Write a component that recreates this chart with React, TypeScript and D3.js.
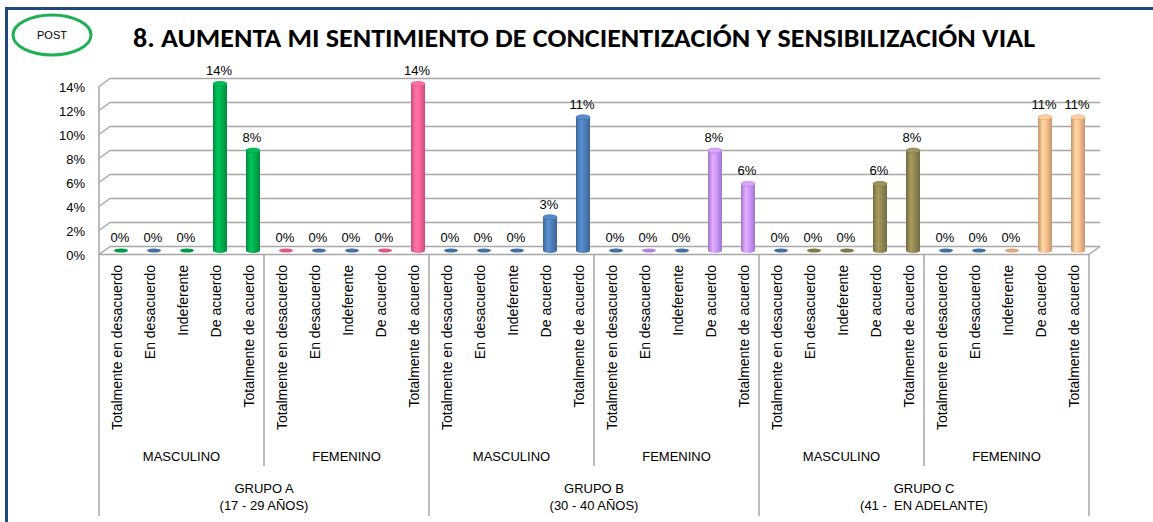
import React from "react";
import * as d3 from "d3";

const TITLE = "8. AUMENTA MI SENTIMIENTO DE CONCIENTIZACIÓN Y SENSIBILIZACIÓN VIAL";
const BADGE = "POST";

const respuestas = [
  "Totalmente en desacuerdo",
  "En desacuerdo",
  "Indeferente",
  "De acuerdo",
  "Totalmente de acuerdo",
];
const generos = ["MASCULINO", "FEMENINO"];
const grupos = ["GRUPO A", "GRUPO B", "GRUPO C"];
const rangos = ["(17 - 29 AÑOS)", "(30 - 40 AÑOS)", "(41 -  EN ADELANTE)"];

// percentages, in the order grupo -> genero -> respuesta
const grupoAMasculino = [0, 0, 0, 13.89, 8.33];
const grupoAFemenino = [0, 0, 0, 0, 13.89];
const grupoBMasculino = [0, 0, 0, 2.78, 11.11];
const grupoBFemenino = [0, 0, 0, 8.33, 5.56];
const grupoCMasculino = [0, 0, 0, 5.56, 8.33];
const grupoCFemenino = [0, 0, 0, 11.11, 11.11];

const yTicks = [0, 2, 4, 6, 8, 10, 12, 14];

// colours (style, separate from data)
const GREEN = "#00B050";
const BLUE = "#4F81BD";
const PINK = "#FF6699";
const PURPLE = "#CC99FF";
const OLIVE = "#948A54";
const PEACH = "#FAC090";
const barColors = [
  GREEN, BLUE, GREEN, GREEN, GREEN,
  PINK, BLUE, BLUE, PINK, PINK,
  BLUE, BLUE, BLUE, BLUE, BLUE,
  BLUE, PURPLE, BLUE, PURPLE, PURPLE,
  BLUE, OLIVE, OLIVE, OLIVE, OLIVE,
  BLUE, BLUE, PEACH, PEACH, PEACH,
];

const values = [
  ...grupoAMasculino, ...grupoAFemenino,
  ...grupoBMasculino, ...grupoBFemenino,
  ...grupoCMasculino, ...grupoCFemenino,
];

const W = 1153;
const H = 522;
const FONT = "'Liberation Sans', Arial, sans-serif";
const GRID = "#A6A6A6";

export default function App() {
  const left = 99;
  const right = 1089;
  const depthX = 11;
  const depthY = 8;
  const x = d3.scaleBand<number>().domain(d3.range(values.length)).range([left, right]).padding(0);
  const bw = x.bandwidth();
  const yBack = d3.scaleLinear().domain([0, 14]).range([246.5, 78.5]);
  const yFront = (v: number) => yBack(v) + depthY;
  const yMid = (v: number) => yBack(v) + depthY / 2;
  const barOff = 5.5;
  const rx = 7;
  const ry = 2.5;

  const uniq = Array.from(new Set(barColors));
  const gid = (c: string) => "g" + c.replace("#", "");

  const tableTop = yFront(0);
  const tableBottom = 516;
  const genderBottom = 466;
  const nResp = respuestas.length;

  return (
    <svg
      width={W}
      height={H}
      style={{ position: "absolute", left: 0, top: 0, background: "#fff" }}
      fontFamily={FONT}
    >
      <defs>
        {uniq.map((c) => {
          const base = d3.color(c)!;
          const dark = base.darker(0.7).formatHex();
          const light = base.brighter(0.35).formatHex();
          return (
            <linearGradient key={c} id={gid(c)} x1="0" x2="1" y1="0" y2="0">
              <stop offset="0%" stopColor={dark} />
              <stop offset="35%" stopColor={light} />
              <stop offset="60%" stopColor={c} />
              <stop offset="100%" stopColor={dark} />
            </linearGradient>
          );
        })}
      </defs>
      <rect x={0} y={0} width={W} height={H} fill="#fff" />
      {/* frame */}
      <rect x={5} y={7} width={W - 5} height={3} fill="#1F497D" />
      <rect x={5} y={7} width={3} height={H - 7} fill="#1F497D" />

      {/* badge */}
      <ellipse cx={52} cy={35} rx={39} ry={20} fill="none" stroke="#1FAF55" strokeWidth={3} />
      <text x={52} y={39} textAnchor="middle" fontSize={11} fill="#000">{BADGE}</text>

      {/* title */}
      <text
        x={584}
        y={47}
        textAnchor="middle"
        fontSize={26}
        fontWeight="bold"
        fill="#000"
        textLength={902}
        lengthAdjust="spacingAndGlyphs"
        fontFamily="Carlito, 'Liberation Sans', Arial, sans-serif"
      >
        {TITLE}
      </text>

      {/* walls & gridlines */}
      {yTicks.map((t) => (
        <g key={t}>
          <line x1={left + depthX} x2={right + depthX} y1={yBack(t)} y2={yBack(t)} stroke={GRID} strokeWidth={1.5} />
          <line x1={left} x2={left + depthX} y1={yFront(t)} y2={yBack(t)} stroke={GRID} strokeWidth={1.5} />
          <text x={85} y={yFront(t) + 5} textAnchor="end" fontSize={13} fill="#000">
            {t}%
          </text>
        </g>
      ))}
      <line x1={left} x2={left} y1={yFront(14)} y2={tableBottom} stroke={GRID} strokeWidth={1.5} />
      <line x1={left} x2={right} y1={yFront(0)} y2={yFront(0)} stroke={GRID} strokeWidth={1.5} />
      <line x1={right} x2={right + depthX} y1={yFront(0)} y2={yBack(0)} stroke={GRID} strokeWidth={1.5} />

      {/* bars */}
      {values.map((v, i) => {
        const cx = x(i)! + bw / 2 + barOff;
        const c = barColors[i];
        const base = yMid(0);
        const top = yMid(v);
        const dark = d3.color(c)!.darker(0.4).formatHex();
        const light = d3.color(c)!.brighter(0.2).formatHex();
        const label = `${Math.round(v)}%`;
        return (
          <g key={i}>
            {v > 0 ? (
              <>
                <ellipse cx={cx} cy={base} rx={rx} ry={ry} fill={`url(#${gid(c)})`} />
                <rect x={cx - rx} y={top} width={rx * 2} height={base - top} fill={`url(#${gid(c)})`} />
                <ellipse cx={cx} cy={top} rx={rx} ry={ry} fill={light} stroke={dark} strokeWidth={0.6} />
              </>
            ) : (
              <ellipse cx={cx} cy={base} rx={rx} ry={2} fill={dark} />
            )}
            <text x={cx - 1} y={top - 8.5} textAnchor="middle" fontSize={13} fill="#000">
              {label}
            </text>
          </g>
        );
      })}

      {/* category table */}
      {values.map((_, i) => {
        const cx = x(i)! + bw / 2 + 1.5;
        return (
          <text
            key={i}
            transform={`translate(${cx},265) rotate(-90)`}
            textAnchor="end"
            dy="0.35em"
            fontSize={14}
            fill="#000"
          >
            {respuestas[i % nResp]}
          </text>
        );
      })}
      {grupos.map((g, gi) => {
        const gx0 = x(gi * nResp * 2)!;
        const gx1 = gx0 + bw * nResp * 2;
        const mid = gx0 + bw * nResp;
        return (
          <g key={g}>
            <line x1={gx1} x2={gx1} y1={tableTop} y2={tableBottom} stroke={GRID} strokeWidth={1.5} />
            <line x1={mid} x2={mid} y1={tableTop} y2={genderBottom} stroke={GRID} strokeWidth={1.5} />
            {generos.map((ge, k) => (
              <text
                key={ge}
                x={gx0 + bw * nResp * (k + 0.5)}
                y={461}
                textAnchor="middle"
                fontSize={13}
                fill="#000"
              >
                {ge}
              </text>
            ))}
            <text x={(gx0 + gx1) / 2} y={493} textAnchor="middle" fontSize={13} fill="#000">
              {g}
            </text>
            <text
              x={(gx0 + gx1) / 2}
              y={510}
              textAnchor="middle"
              fontSize={13}
              fill="#000"
              style={{ whiteSpace: "pre" }}
            >
              {rangos[gi]}
            </text>
          </g>
        );
      })}
    </svg>
  );
}
